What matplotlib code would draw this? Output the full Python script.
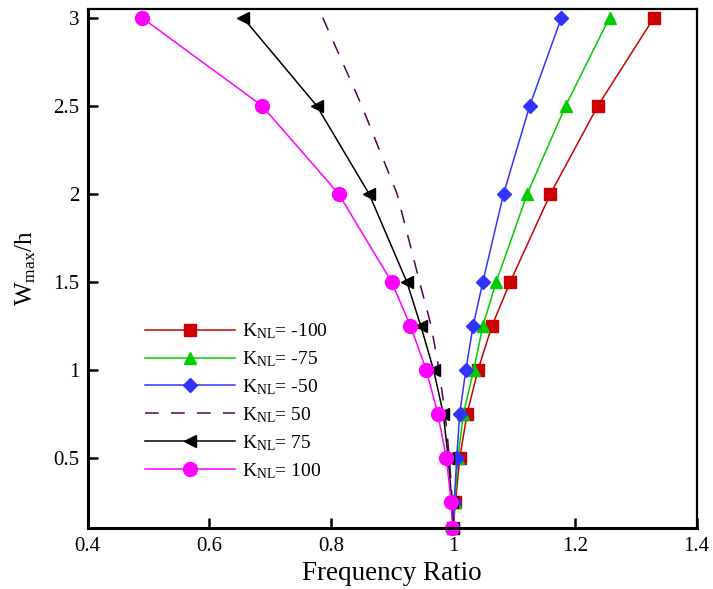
#!/usr/bin/env python3
import matplotlib
matplotlib.use("Agg")
import matplotlib.pyplot as plt
from matplotlib.ticker import FormatStrFormatter

# amplitude levels (W_max/h) shared by all curves
amplitude = [3.0, 2.5, 2.0, 1.5, 1.25, 1.0, 0.75, 0.5, 0.25, 0.1]

# frequency ratio for each nonlinear stiffness
freq_m100 = [1.330, 1.238, 1.160, 1.094, 1.064, 1.041, 1.023, 1.011, 1.004, 1.000]
freq_m75 = [1.257, 1.185, 1.122, 1.071, 1.049, 1.034, 1.017, 1.008, 1.003, 1.000]
freq_m50 = [1.178, 1.126, 1.083, 1.049, 1.033, 1.021, 1.011, 1.006, 1.002, 1.000]
freq_p50 = [0.786, 0.850, 0.908, 0.945, 0.964, 0.977, 0.987, 0.994, 0.999, 1.000]
freq_p75 = [0.655, 0.776, 0.862, 0.924, 0.947, 0.968, 0.984, 0.992, 0.998, 1.000]
freq_p100 = [0.489, 0.686, 0.812, 0.899, 0.930, 0.956, 0.975, 0.989, 0.997, 0.999]

labels = ["-100", "-75", "-50", "50", "75", "100"]


def main():
    plt.rcParams["font.family"] = ["Liberation Serif", "DejaVu Serif"]
    plt.rcParams["mathtext.fontset"] = "custom"
    plt.rcParams["mathtext.rm"] = "Liberation Serif"
    plt.rcParams["mathtext.it"] = "Liberation Serif:italic"

    fig = plt.figure(figsize=(7.13, 5.89), dpi=100)
    ax = fig.add_axes([0.123, 0.103, 0.854, 0.882])

    styles = [
        (freq_m100, dict(color="#CC0000", marker="s", markersize=8)),
        (freq_m75, dict(color="#00CC00", marker="^", markersize=9)),
        (freq_m50, dict(color="#3333FF", marker="D", markersize=7.5)),
        (freq_p50, dict(color="#550055", linestyle=(0, (9, 8)))),
        (freq_p75, dict(color="black", marker="<", markersize=8)),
        (freq_p100, dict(color="#FF00FF", marker="o", markersize=10)),
    ]
    for (freq, style), lab in zip(styles, labels):
        ax.plot(freq, amplitude, linewidth=1.1, clip_on=False,
                label=r"$\mathrm{K_{NL}}$= " + lab, **style)

    ax.set_xlim(0.4, 1.4)
    ax.set_ylim(0.1, 3.05)
    ax.set_xticks([0.4, 0.6, 0.8, 1.0, 1.2, 1.4])
    ax.set_yticks([0.5, 1.0, 1.5, 2.0, 2.5, 3.0])
    ax.xaxis.set_major_formatter(FormatStrFormatter("%g"))
    ax.yaxis.set_major_formatter(FormatStrFormatter("%g"))
    ax.tick_params(direction="in", length=7, width=1.8, labelsize=15, pad=6)
    for side in ["left", "bottom"]:
        ax.spines[side].set_linewidth(2.2)
    for side in ["top", "right"]:
        ax.spines[side].set_linewidth(1.6)

    ax.set_xlabel("Frequency Ratio", fontsize=19.5, labelpad=4)
    ax.set_ylabel(r"W$_{\mathrm{max}}$/h", fontsize=18, labelpad=11)

    ax.legend(loc="center left", bbox_to_anchor=(0.094, 0.245), frameon=False,
              fontsize=14, handlelength=4.64, handletextpad=0.36,
              labelspacing=0.42, borderpad=0, borderaxespad=0)

    plt.savefig("out.png", dpi=100)


if __name__ == '__main__':
    main()
